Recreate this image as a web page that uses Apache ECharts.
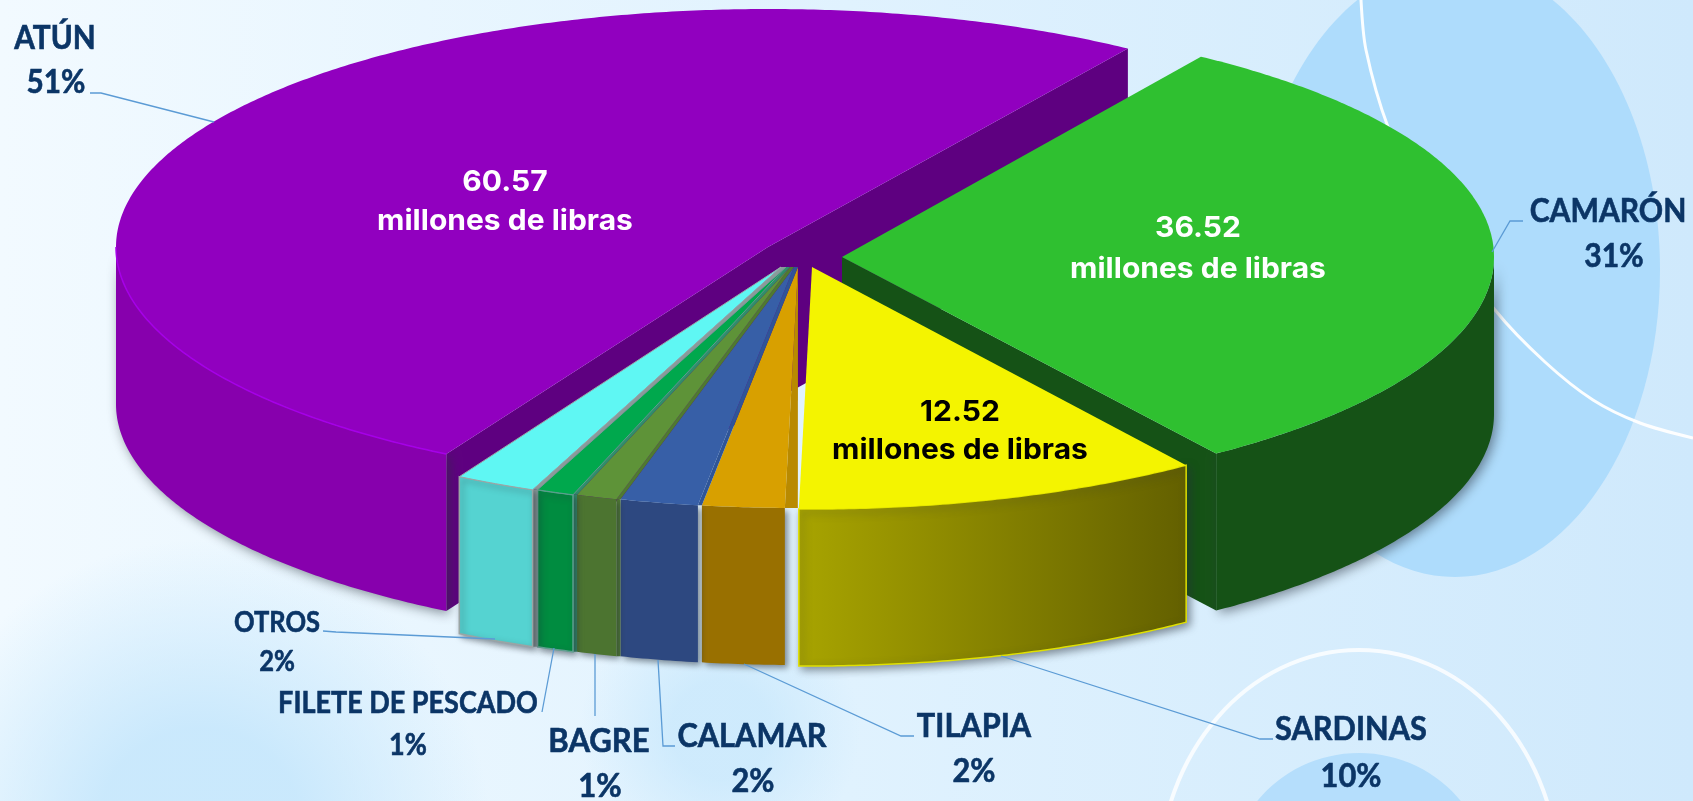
<!DOCTYPE html>
<html><head><meta charset="utf-8">
<style>html,body{margin:0;padding:0;background:#e6f4fe;overflow:hidden}#c{width:1693px;height:801px}</style>
<script src="https://cdn.jsdelivr.net/npm/echarts@6/dist/echarts.min.js"></script>
</head><body><div id="c"></div>
<script>
// ---- data ----
const categories = ['ATÚN','OTROS','FILETE DE PESCADO','BAGRE','CALAMAR','TILAPIA','SARDINAS','CAMARÓN'];
const librasValues = [60.57, 2.37, 1.10, 1.20, 2.30, 2.42, 12.52, 36.52];
const percentLabels = ['51%','2%','1%','1%','2%','2%','10%','31%'];
const insideValueLabels = ['60.57', null, null, null, null, null, '12.52', '36.52'];
const insideUnit = 'millones de libras';

// ---- layout and style (not data) ----
const RX = 652, DEPTH = 157, START_DEG = 57.2;
const DRAW_ORDER = [0, 7, 6, 5, 4, 3, 2, 1];
const LOOK = [
  {ax:768, ay:247, ry:238, a0:-0.7, top:'#9100bf', wall:'#8700ad', cut:'#5e0080', cuts:[1,1], rim:'#a600e8', shadow:12},
  {ax:781, ay:267, ry:241, top:'#5ff7f3', wall:'#55d3d1', edge:'#9aa5a5', stripe:'#8a9a9a', fillGap:1, wallGap:1, shadow:6},
  {ax:786, ay:267, ry:241, top:'#00a84d', wall:'#008c40', edge:'#5f9f90', stripe:'#2f8f6a', fillGap:1, wallGap:1, shadow:6},
  {ax:790, ay:267, ry:241, top:'#5e9338', wall:'#4c7430', stripe:'#4f7a30', fillGap:1, wallGap:1, shadow:6},
  {ax:794, ay:267, ry:241, top:'#375fa7', wall:'#2d4880', stripe:'#2f5597', fillGap:1, shadow:6},
  {ax:798, ay:267, ry:241, top:'#d8a000', wall:'#997000', stripe:'#b98a00', sw:13, shadow:6},
  {ax:812, ay:267, ry:242, top:'#f4f400', wallGrad:['#a8a400','#636000'], edge:'#e0e000', shadow:8},
  {ax:842, ay:257, ry:240, b0:-0.6, top:'#2fc030', wall:'#155216', cut:'#155216', cuts:[1,0], shadow:12}
];
// small perspective correction of the slice boundaries (degrees)
const BOUNDARY_NUDGE = [0,0,0,0,0,0,0,-1.7,0];
const LABELS = [
  {x:55,  y:39,  x2:56,  y2:83,  s:32, k:.93, line:[[90,93],[101,93],[214,122]]},
  {x:277, y:623, x2:277, y2:662, s:29, k:.88, line:[[323,631],[336,632],[495,639]]},
  {x:408, y:703, x2:408, y2:745, s:30, k:.90, line:[[542,712],[554,648]]},
  {x:599, y:742, x2:600, y2:787, s:32, k:.97, line:[[595,716],[595,654]]},
  {x:752, y:737, x2:753, y2:782, s:32, k:.96, line:[[675,746],[663,746],[658,660]]},
  {x:974, y:727, x2:974, y2:772, s:32, k:.96, line:[[914,736],[901,736],[744,664]]},
  {x:1351,y:730, x2:1351,y2:777, s:32, k:.96, line:[[1273,739],[1260,739],[1001,656]]},
  {x:1608,y:212, x2:1614,y2:257, s:32, k:.94, line:[[1523,221],[1510,221],[1492,252]]}
];
const INSIDE = {0:{x:505,y:182,y2:221,c:'#fff'},6:{x:960,y:412,y2:450,c:'#000'},7:{x:1198,y:228,y2:269,c:'#fff'}};
const NAVY = '#0b3566', LEADER = '#5b9bd5';

// ---- geometry from the values ----
const total = librasValues.reduce((a,b)=>a+b,0);
const bounds = [START_DEG];
librasValues.forEach(v => bounds.push(bounds[bounds.length-1] + v/total*360));
const angle = i => bounds[i] + BOUNDARY_NUDGE[i];
const pt = (l,deg,dy=0) => { const r=deg*Math.PI/180; return [l.ax+RX*Math.cos(r), l.ay-l.ry*Math.sin(r)+dy]; };
function arc(l,a,b,dy=0){ const n=Math.max(4,Math.ceil(Math.abs(b-a))*2), o=[];
  for(let k=0;k<=n;k++) o.push(pt(l,a+(b-a)*k/n,dy)); return o; }

function renderSlice(params, api){
  const i = api.value(0), l = LOOK[i], a = angle(i)+(l.a0||0), b = angle(i+1)+(l.b0||0), kids = [];
  const poly = (points, style) => kids.push({type:'polygon', shape:{points}, style});
  const apex=[l.ax,l.ay], apexB=[l.ax,l.ay+DEPTH];
  if (l.cuts){
    if (l.cuts[0]){ const c=pt(l,a); poly([apex,c,[c[0],c[1]+DEPTH],apexB],{fill:l.cut}); }
    if (l.cuts[1]){ const c=pt(l,b); poly([apex,c,[c[0],c[1]+DEPTH],apexB],{fill:l.cut}); }
  }
  const c=pt(l,b), next=LOOK[i+1];
  if (l.fillGap){ const nc=pt(next,b); poly([apex,c,nc,[next.ax,next.ay]],{fill:l.stripe}); }
  if (l.wallGap){ const nc=pt(next,b); poly([c,nc,[nc[0],nc[1]+DEPTH],[c[0],c[1]+DEPTH]],{fill:l.stripe}); }
  const wa=Math.max(a,180), wb=Math.min(b,360);
  if (wb>wa){
    const fill = l.wallGrad ? new echarts.graphic.LinearGradient(0,0,1,0,[{offset:0,color:l.wallGrad[0]},{offset:1,color:l.wallGrad[1]}]) : l.wall;
    poly(arc(l,wa,wb).concat(arc(l,wb,wa,DEPTH)),{fill,stroke:l.edge||null,lineWidth:l.edge?1.5:0,
      shadowColor:'rgba(40,50,60,0.55)',shadowBlur:l.shadow,shadowOffsetX:3,shadowOffsetY:3});
  }
  if (l.sw) poly([apex,c,[c[0]+l.sw,c[1]]],{fill:l.stripe});
  poly([apex].concat(arc(l,a,b)),{fill:l.top,stroke:l.edge&&i!==6?l.edge:null,lineWidth:l.edge?1:0});
  if (l.rim) kids.push({type:'polyline',shape:{points:arc(l,180,b)},style:{fill:null,stroke:l.rim,lineWidth:1.5}});
  return {type:'group',children:kids};
}

function text(str,x,y,size,fill,family,scaleX,thick){
  return {type:'text',x,y,scaleX:scaleX||1,style:{text:str,x:0,y:0,fill,
    stroke:thick?fill:null,lineWidth:thick||0,
    fontFamily:family,fontSize:size,fontWeight:'bold',align:'center',verticalAlign:'middle'}};
}
function renderLabel(params, api){
  const i = api.value(0), L = LABELS[i], kids = [];
  kids.push({type:'polyline',shape:{points:L.line},style:{fill:null,stroke:LEADER,lineWidth:1.3}});
  kids.push(text(categories[i],L.x,L.y,L.s,NAVY,'Lato',L.k,0.6));
  kids.push(text(percentLabels[i],L.x2,L.y2,L.s,NAVY,'Lato',L.k,0.6));
  if (insideValueLabels[i]){ const t=INSIDE[i];
    kids.push(text(insideValueLabels[i],t.x,t.y,29,t.c,'Inter',1.035));
    kids.push(text(insideUnit,t.x,t.y2,29,t.c,'Inter',1.035));
  }
  return {type:'group',children:kids};
}

function blotch(cx,cy,r,color){
  return {type:'circle',z:0,shape:{cx,cy,r},style:{fill:new echarts.graphic.RadialGradient(.5,.5,.5,[
    {offset:0,color:color},{offset:.35,color:color},{offset:1,color:color.replace(/[\d.]+\)$/,'0)')}])}};
}
const chart = echarts.init(document.getElementById('c'),null,{renderer:'canvas'});
chart.setOption({
  animation:false,
  graphic:{elements:[
    {type:'rect',z:0,shape:{x:0,y:0,width:1693,height:801},style:{fill:new echarts.graphic.LinearGradient(0,0,1,0,[
      {offset:0,color:'#f2faff'},{offset:.5,color:'#e0f2fe'},{offset:1,color:'#cfe9fc'}])}},
    blotch(200,830,290,'rgba(198,231,252,0.9)'),
    blotch(720,730,140,'rgba(198,231,252,0.7)'),
    {type:'ellipse',z:0,shape:{cx:1455,cy:270,rx:205,ry:307},style:{fill:'#aedcfc'}},
    {type:'ellipse',z:0,shape:{cx:1359,cy:880,rx:130,ry:127},style:{fill:'#b5defc'}},
    {type:'ellipse',z:0,shape:{cx:1359,cy:880,rx:200,ry:230},style:{fill:null,stroke:'rgba(255,255,255,0.8)',lineWidth:4}},
    {type:'polyline',z:0,shape:{points:[[1361,0],[1366,50],[1388,127],[1430,220],[1495,310],[1545,362],[1593,400],[1640,423],[1693,438]],smooth:0.3},style:{fill:null,stroke:'rgba(255,255,255,0.95)',lineWidth:3}}
  ]},
  series:[
    {type:'custom',coordinateSystem:'none',z:2,silent:true,renderItem:renderSlice,
     data:DRAW_ORDER.map(i=>({name:categories[i],value:[i,librasValues[i]]}))},
    {type:'custom',coordinateSystem:'none',z:3,silent:true,renderItem:renderLabel,
     data:categories.map((c,i)=>({name:c,value:[i,librasValues[i]]}))}
  ]
});
</script></body></html>
